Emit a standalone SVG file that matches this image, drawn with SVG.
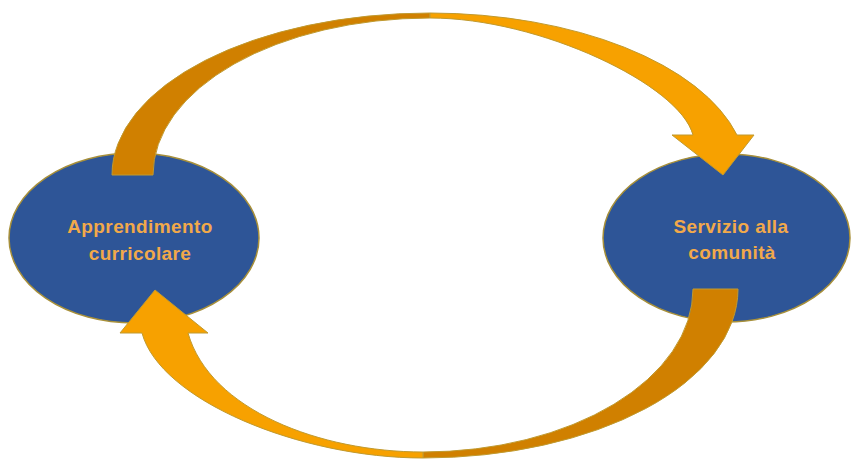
<svg xmlns="http://www.w3.org/2000/svg" width="852" height="459" viewBox="0 0 852 459">
<style>
.node ellipse{fill:#2E5597;stroke:#A8903A;stroke-width:1.5}
.node text{font-family:"Liberation Sans",Arial,sans-serif;font-weight:bold;font-size:19px;letter-spacing:0.4px;fill:#F2A94A;text-anchor:middle}
.back{fill:#D08000;stroke:#C09A30;stroke-width:1}
.front{fill:#F7A100;stroke:#C09A30;stroke-width:1}
</style>
<rect width="852" height="459" fill="#FFFFFF"/>
<g id="node-apprendimento" class="node">
<ellipse cx="134" cy="238" rx="125" ry="85"/>
<text x="140" y="233">Apprendimento</text>
<text x="140" y="260">curricolare</text>
</g>
<g id="node-servizio" class="node">
<ellipse cx="726.5" cy="238" rx="123.5" ry="84"/>
<text x="731" y="233">Servizio alla</text>
<text x="732" y="259">comunità</text>
</g>
<g id="connectors">
<g id="arrow-top">
<path class="back" d="M112,175 A318,162 0 0 1 430,13 L430,18 A277,157 0 0 0 153,175 Z"/>
<path class="front" d="M430,13 A318,162 0 0 1 737,135 L754,135 L723,175 L672,135 L693,135 C680,85 540,18 430,18 Z"/>
</g>
<g id="arrow-bottom">
<path class="back" d="M693,289 L738,289 A315,169 0 0 1 423,458 L423,452 A270,163 0 0 0 693,289 Z"/>
<path class="front" d="M423,458 C300,458 160,400 142,333 L120,333 L155,290 L208,333 L188,333 C210,410 320,452 423,452 Z"/>
</g>
</g>
</svg>
